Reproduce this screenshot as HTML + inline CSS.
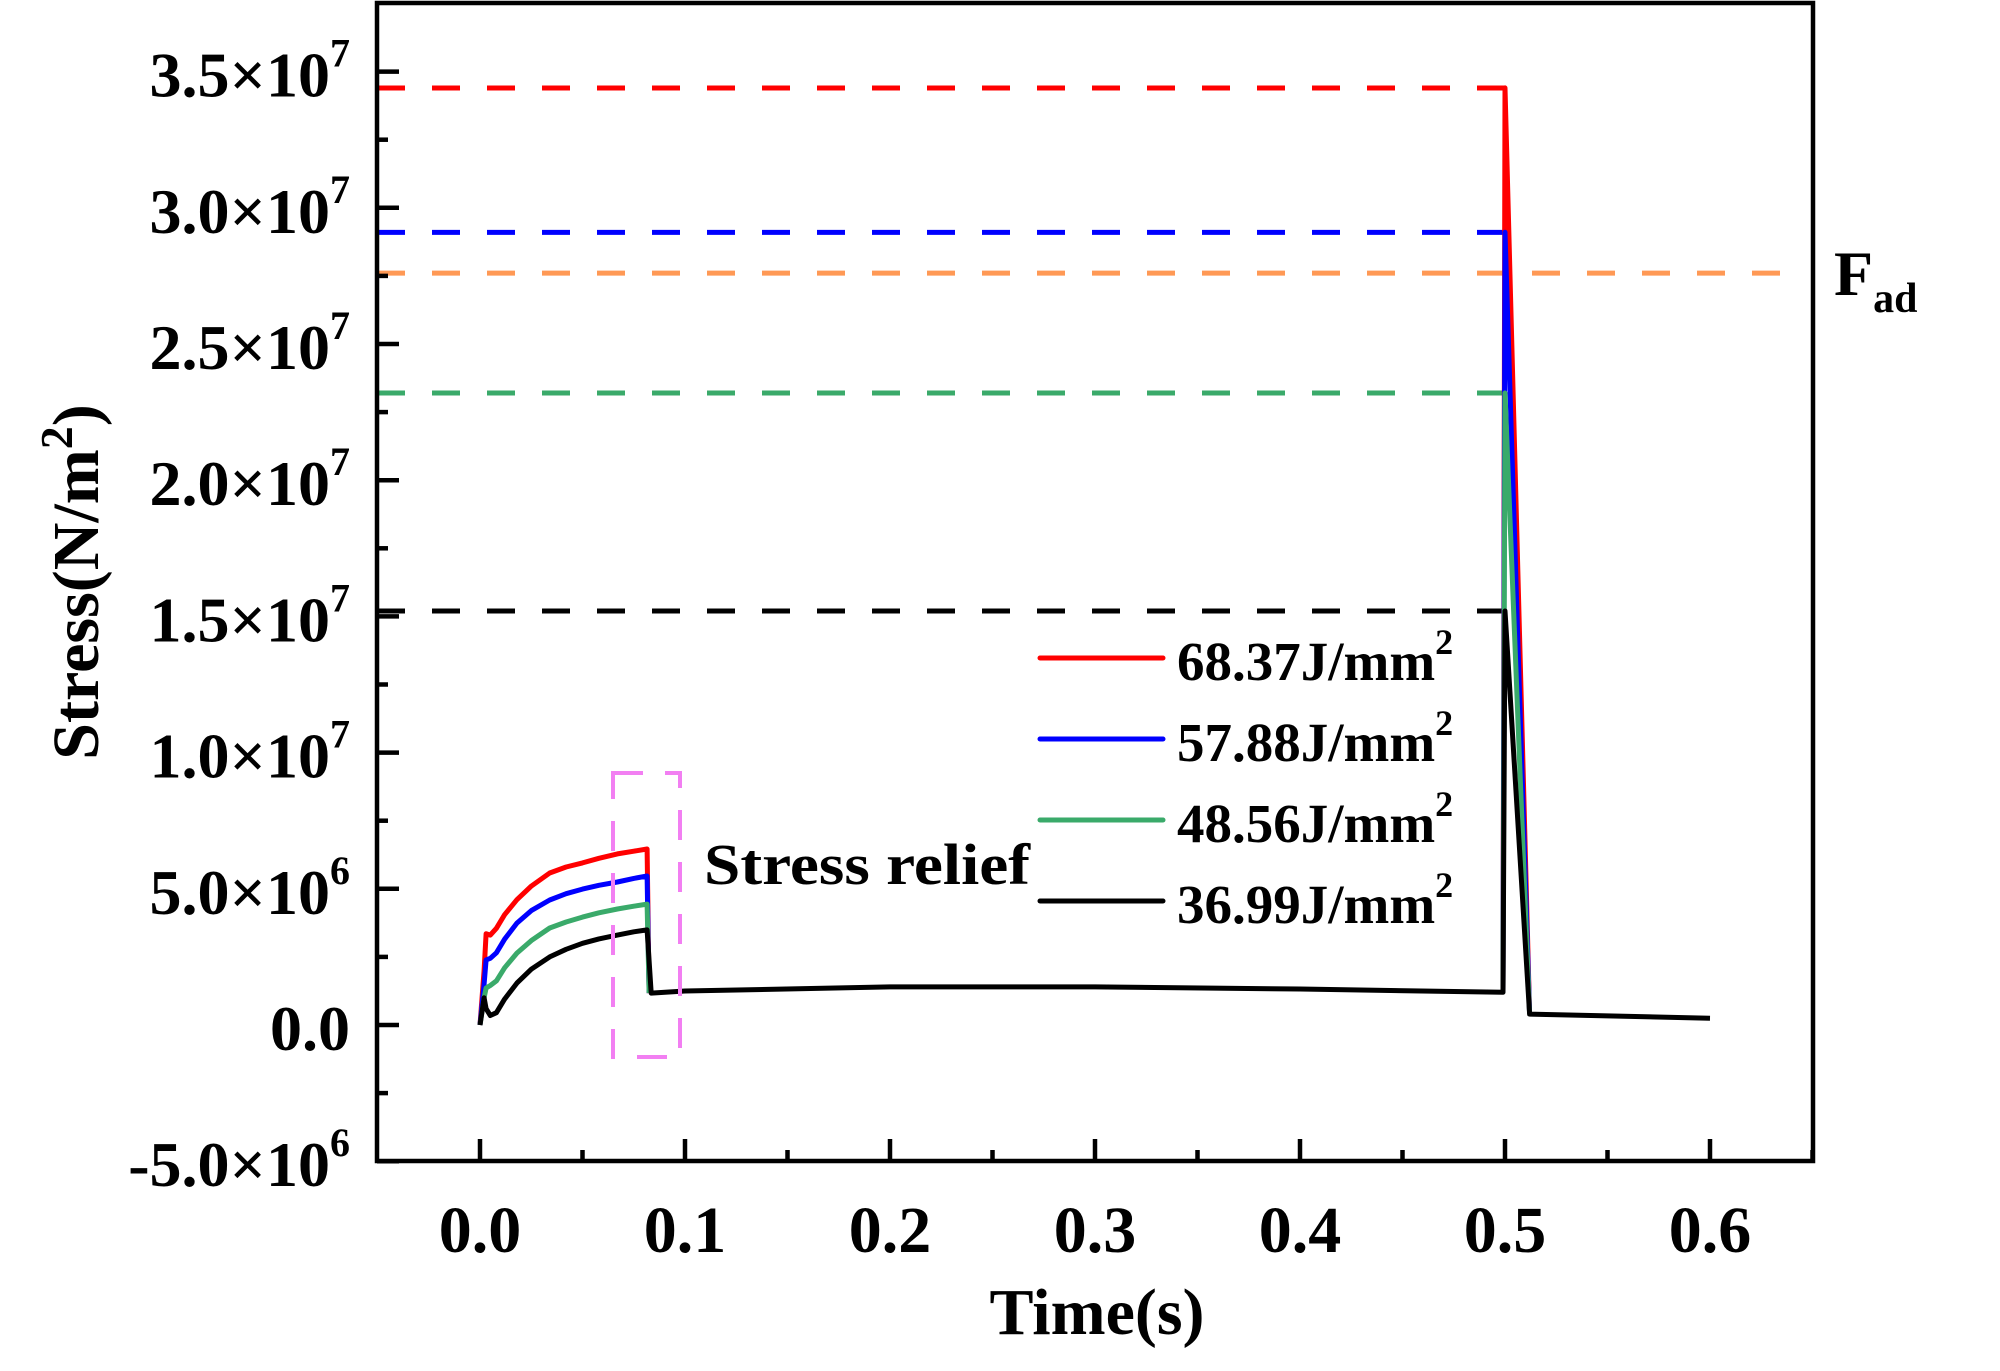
<!DOCTYPE html>
<html><head><meta charset="utf-8"><style>
html,body{margin:0;padding:0;background:#fff;}
svg{display:block;font-family:"Liberation Serif","Times New Roman",serif;font-weight:bold;}
</style></head><body>
<svg id="chart" width="2000" height="1371" viewBox="0 0 2000 1371" xmlns="http://www.w3.org/2000/svg">
<rect x="0" y="0" width="2000" height="1371" fill="#fff"/>
<g id="dashes"></g>
<g id="series"></g>
<g id="axes"></g>
<rect x="613" y="773" width="67" height="284" fill="none" stroke="#f27ff2" stroke-width="4" stroke-dasharray="30,22"/>
<text x="704" y="884" font-size="58" textLength="326" lengthAdjust="spacingAndGlyphs">Stress relief</text>
<text x="1834" y="295" font-size="64">F<tspan font-size="42" dy="17">ad</tspan></text>
<text x="1097" y="1334" font-size="66" text-anchor="middle">Time(s)</text>
<text transform="translate(98,582) rotate(-90)" font-size="66" text-anchor="middle">Stress(N/m<tspan font-size="46" dy="-26">2</tspan><tspan dy="26">)</tspan></text>
<g id="legend"></g>
</svg>
<script>
const xTicks = [0.0, 0.1, 0.2, 0.3, 0.4, 0.5, 0.6];
const xTickLabels = ["0.0","0.1","0.2","0.3","0.4","0.5","0.6"];
const yTicks = [-5e6, 0, 5e6, 1e7, 1.5e7, 2e7, 2.5e7, 3e7, 3.5e7];
const yTickMant = ["-5.0","0.0","5.0","1.0","1.5","2.0","2.5","3.0","3.5"];
const yTickExp = ["6","","6","7","7","7","7","7","7"];
const seriesNames = ["68.37J/mm","57.88J/mm","48.56J/mm","36.99J/mm"];
const seriesColors = ["#ff0000","#0000ff","#3aaa6a","#000000"];
const riseTime = [0, 0.002, 0.003, 0.005, 0.008, 0.012, 0.018, 0.025, 0.034, 0.042, 0.05, 0.058, 0.067, 0.075, 0.0815];
const redRise   = [0, 2.0e6, 3.35e6, 3.3e6, 3.55e6, 4.05e6, 4.6e6, 5.1e6, 5.58e6, 5.8e6, 5.95e6, 6.12e6, 6.28e6, 6.38e6, 6.46e6];
const blueRise  = [0, 1.5e6, 2.39e6, 2.45e6, 2.65e6, 3.15e6, 3.74e6, 4.2e6, 4.59e6, 4.82e6, 4.99e6, 5.13e6, 5.25e6, 5.38e6, 5.47e6];
const greenRise = [0, 1.0e6, 1.36e6, 1.45e6, 1.62e6, 2.1e6, 2.64e6, 3.1e6, 3.56e6, 3.78e6, 3.96e6, 4.12e6, 4.26e6, 4.36e6, 4.44e6];
const blackRise = [0, 1.0e6, 0.6e6, 0.35e6, 0.45e6, 0.95e6, 1.54e6, 2.05e6, 2.5e6, 2.78e6, 3.0e6, 3.16e6, 3.3e6, 3.42e6, 3.49e6];
const tailTime = [0.0835, 0.1, 0.2, 0.3, 0.4, 0.499, 0.5, 0.512, 0.6];
const blackTail = [1.17e6, 1.25e6, 1.4e6, 1.4e6, 1.32e6, 1.2e6, 1.52e7, 0.4e6, 0.25e6];
const peakValues = [3.44e7, 2.91e7, 2.32e7, 1.52e7];
const fadValue = 2.76e7;
const spikeTime = [0.499, 0.5, 0.512];

const NS="http://www.w3.org/2000/svg";
const X0=377, X1=1813, Y0=3, Y1=1161;
function sx(t){return 480 + t*2050;}
function sy(v){return 1025 - v/5e6*136.2;}
function mk(tag,attrs,parent){const e=document.createElementNS(NS,tag);for(const k in attrs)e.setAttribute(k,attrs[k]);parent.appendChild(e);return e;}
const axes=document.getElementById('axes'), series=document.getElementById('series'), dashes=document.getElementById('dashes'), legend=document.getElementById('legend');

const dashColors=["#ff0000","#0000ff","#3aaa6a","#000000"];
peakValues.forEach((v,i)=>{
  const l=mk('line',{x1:X0,x2:sx(0.5),y1:sy(v),y2:sy(v),stroke:dashColors[i],'stroke-width':5,'stroke-dasharray':'28,27'},dashes);
  
  
});
const fl=mk('line',{x1:X0,x2:1800,y1:sy(fadValue),y2:sy(fadValue),stroke:'#ff9955','stroke-width':5,'stroke-dasharray':'28,27'},dashes);



const rises=[redRise,blueRise,greenRise,blackRise];
function pathFrom(ts,vs){return ts.map((t,i)=>(i?'L':'M')+sx(t).toFixed(1)+','+sy(vs[i]).toFixed(1)).join(' ');}
for(let i=0;i<3;i++){
  const p=mk('path',{d:pathFrom(riseTime.concat([0.0825]),rises[i].concat([blackTail[0]])),fill:'none',stroke:seriesColors[i],'stroke-width':5,'stroke-linejoin':'round'},series);
  
  
  const s=mk('path',{d:pathFrom(spikeTime,[blackTail[5],peakValues[i],blackTail[7]]),fill:'none',stroke:seriesColors[i],'stroke-width':5,'stroke-linejoin':'round'},series);
  
  
}
const bp=mk('path',{d:pathFrom(riseTime.concat(tailTime),blackRise.concat(blackTail)),fill:'none',stroke:'#000','stroke-width':5,'stroke-linejoin':'round'},series);



const fr=mk('rect',{x:X0,y:Y0,width:X1-X0,height:Y1-Y0,fill:'none',stroke:'#000','stroke-width':4.5},axes);


xTicks.forEach((t,i)=>{
  const tk=mk('line',{x1:sx(t),x2:sx(t),y1:Y1,y2:Y1-22,stroke:'#000','stroke-width':4.5},axes);
  
  
  const m=mk('line',{x1:sx(t+0.05),x2:sx(t+0.05),y1:Y1,y2:Y1-11,stroke:'#000','stroke-width':4.5},axes);
  
  
  const tx=mk('text',{x:sx(t),y:1252,'font-size':66,'text-anchor':'middle'},axes);
  tx.textContent=xTickLabels[i];
  
  
});
yTicks.forEach((v,i)=>{
  const tk=mk('line',{x1:X0,x2:X0+22,y1:sy(v),y2:sy(v),stroke:'#000','stroke-width':4.5},axes);
  
  
  if(i<yTicks.length-1){
    const m=mk('line',{x1:X0,x2:X0+11,y1:sy(v+2.5e6),y2:sy(v+2.5e6),stroke:'#000','stroke-width':4.5},axes);
    
    
  }
  const tx=mk('text',{x:350,y:sy(v)+25,'font-size':64,'text-anchor':'end'},axes);
  
  
  if(yTickExp[i]){
    tx.appendChild(document.createTextNode(yTickMant[i]+'\u00d710'));
    const sp=mk('tspan',{'font-size':40,dy:-30},tx);
    sp.textContent=yTickExp[i];
  } else {
    tx.textContent=yTickMant[i];
  }
});

seriesNames.forEach((n,i)=>{
  const y=658+i*81;
  const l=mk('line',{x1:1040,x2:1163,y1:y,y2:y,stroke:seriesColors[i],'stroke-width':5,'stroke-linecap':'round'},legend);
  
  
  const t=mk('text',{x:1177,y:y+22,'font-size':55},legend);
  
  
  t.appendChild(document.createTextNode(n));
  const s=mk('tspan',{'font-size':36,dy:-26},t);
  s.textContent='2';
});
</script>
</body></html>
